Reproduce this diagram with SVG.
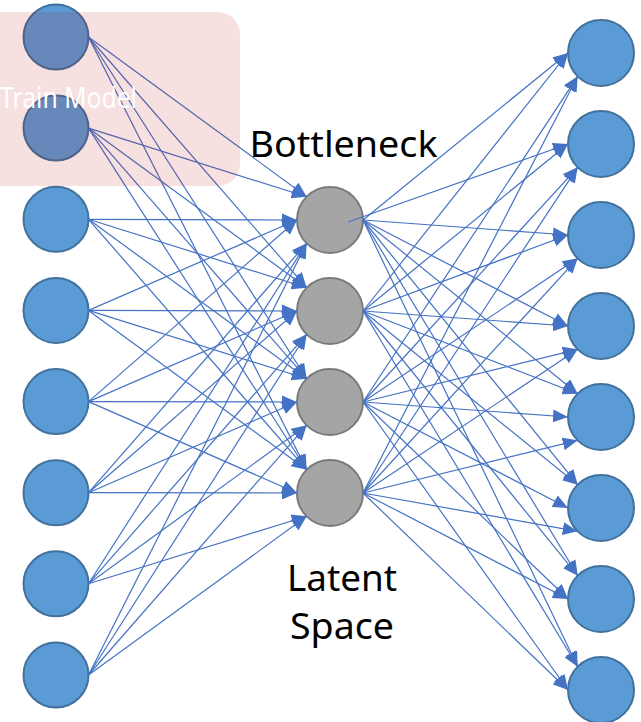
<svg xmlns="http://www.w3.org/2000/svg" width="641" height="722" viewBox="0 0 641 722">
  <style>
    .in { fill: #5B9BD5; stroke: #41719C; stroke-width: 2; }
    .mid { fill: #A5A5A5; stroke: #7A7A7A; stroke-width: 2; }
    .out { fill: #5B9BD5; stroke: #41719C; stroke-width: 2; }
    .edge { stroke: #4472C4; stroke-width: 1.2; fill: none; marker-end: url(#arrow); }
    .label { font-family: "Noto Sans", "Open Sans", "Liberation Sans", sans-serif; font-size: 37px; fill: #000000; text-anchor: middle; }
    .overlay-text { font-family: "Noto Sans", "Open Sans", "Liberation Sans", sans-serif; font-size: 29px; fill: #FFFFFF; }
  </style>
  <defs>
    <marker id="arrow" markerUnits="userSpaceOnUse" markerWidth="16" markerHeight="13" refX="15" refY="6.5" orient="auto">
      <path d="M0,0 L15,6.5 L0,13 z" fill="#4472C4"/>
    </marker>
  </defs>

  <rect width="641" height="722" fill="#FFFFFF"/>

  <!-- input layer -->
  <g id="input-1"><circle class="in" cx="56" cy="37" r="32.5"/></g>
  <g id="input-2"><circle class="in" cx="56" cy="128.1" r="32.5"/></g>
  <g id="input-3"><circle class="in" cx="56" cy="219.3" r="32.5"/></g>
  <g id="input-4"><circle class="in" cx="56" cy="310.4" r="32.5"/></g>
  <g id="input-5"><circle class="in" cx="56" cy="401.6" r="32.5"/></g>
  <g id="input-6"><circle class="in" cx="56" cy="492.7" r="32.5"/></g>
  <g id="input-7"><circle class="in" cx="56" cy="583.8" r="32.5"/></g>
  <g id="input-8"><circle class="in" cx="56" cy="675" r="32.5"/></g>

  <!-- bottleneck layer -->
  <g id="latent-1"><circle class="mid" cx="330" cy="220" r="33"/></g>
  <g id="latent-2"><circle class="mid" cx="330" cy="311" r="33"/></g>
  <g id="latent-3"><circle class="mid" cx="330" cy="402" r="33"/></g>
  <g id="latent-4"><circle class="mid" cx="330" cy="493" r="33"/></g>

  <!-- output layer -->
  <g id="output-1"><circle class="out" cx="601" cy="53" r="33"/></g>
  <g id="output-2"><circle class="out" cx="601" cy="144" r="33"/></g>
  <g id="output-3"><circle class="out" cx="601" cy="235" r="33"/></g>
  <g id="output-4"><circle class="out" cx="601" cy="326" r="33"/></g>
  <g id="output-5"><circle class="out" cx="601" cy="417" r="33"/></g>
  <g id="output-6"><circle class="out" cx="601" cy="508" r="33"/></g>
  <g id="output-7"><circle class="out" cx="601" cy="599" r="33"/></g>
  <g id="output-8"><circle class="out" cx="601" cy="690" r="33"/></g>

  <g id="connectors">
    <!-- encoder: inputs to latent-1 -->
    <line class="edge" x1="88.5" y1="37" x2="306.7" y2="196.7"/>
    <line class="edge" x1="88.5" y1="128.1" x2="306.7" y2="196.7"/>
    <line class="edge" x1="88.5" y1="219.3" x2="297" y2="220"/>
    <line class="edge" x1="88.5" y1="310.4" x2="297" y2="220"/>
    <line class="edge" x1="88.5" y1="401.6" x2="297" y2="220"/>
    <line class="edge" x1="88.5" y1="492.7" x2="306.7" y2="243.3"/>
    <line class="edge" x1="88.5" y1="583.8" x2="306.7" y2="243.3"/>
    <line class="edge" x1="88.5" y1="675" x2="306.7" y2="243.3"/>
    <!-- inputs to latent-2 -->
    <line class="edge" x1="88.5" y1="37" x2="306.7" y2="287.7"/>
    <line class="edge" x1="88.5" y1="128.1" x2="306.7" y2="287.7"/>
    <line class="edge" x1="88.5" y1="219.3" x2="306.7" y2="287.7"/>
    <line class="edge" x1="88.5" y1="310.4" x2="297" y2="311"/>
    <line class="edge" x1="88.5" y1="401.6" x2="297" y2="311"/>
    <line class="edge" x1="88.5" y1="492.7" x2="297" y2="311"/>
    <line class="edge" x1="88.5" y1="583.8" x2="306.7" y2="334.3"/>
    <line class="edge" x1="88.5" y1="675" x2="306.7" y2="334.3"/>
    <!-- inputs to latent-3 -->
    <line class="edge" x1="88.5" y1="37" x2="306.7" y2="378.7"/>
    <line class="edge" x1="88.5" y1="128.1" x2="306.7" y2="378.7"/>
    <line class="edge" x1="88.5" y1="219.3" x2="306.7" y2="378.7"/>
    <line class="edge" x1="88.5" y1="310.4" x2="306.7" y2="378.7"/>
    <line class="edge" x1="88.5" y1="401.6" x2="297" y2="402"/>
    <line class="edge" x1="88.5" y1="492.7" x2="297" y2="402"/>
    <line class="edge" x1="88.5" y1="583.8" x2="306.7" y2="425.3"/>
    <line class="edge" x1="88.5" y1="675" x2="306.7" y2="425.3"/>
    <!-- inputs to latent-4 -->
    <line class="edge" x1="88.5" y1="37" x2="306.7" y2="469.7"/>
    <line class="edge" x1="88.5" y1="128.1" x2="306.7" y2="469.7"/>
    <line class="edge" x1="88.5" y1="219.3" x2="306.7" y2="469.7"/>
    <line class="edge" x1="88.5" y1="310.4" x2="306.7" y2="469.7"/>
    <line class="edge" x1="88.5" y1="401.6" x2="297" y2="493"/>
    <line class="edge" x1="88.5" y1="492.7" x2="297" y2="493"/>
    <line class="edge" x1="88.5" y1="583.8" x2="306.7" y2="516.3"/>
    <line class="edge" x1="88.5" y1="675" x2="306.7" y2="516.3"/>

    <!-- decoder: latent-1 to outputs -->
    <line class="edge" x1="363" y1="220" x2="568" y2="53"/>
    <line class="edge" x1="348" y1="222" x2="568" y2="144"/>
    <line class="edge" x1="363" y1="220" x2="568" y2="235"/>
    <line class="edge" x1="363" y1="220" x2="568" y2="326"/>
    <line class="edge" x1="363" y1="220" x2="577.7" y2="393.7"/>
    <line class="edge" x1="363" y1="220" x2="577.7" y2="484.7"/>
    <line class="edge" x1="363" y1="220" x2="577.7" y2="575.7"/>
    <line class="edge" x1="363" y1="220" x2="577.7" y2="666.7"/>
    <!-- latent-2 to outputs -->
    <line class="edge" x1="363" y1="311" x2="568" y2="53"/>
    <line class="edge" x1="363" y1="311" x2="568" y2="144"/>
    <line class="edge" x1="363" y1="311" x2="568" y2="235"/>
    <line class="edge" x1="363" y1="311" x2="568" y2="326"/>
    <line class="edge" x1="363" y1="311" x2="577.7" y2="393.7"/>
    <line class="edge" x1="363" y1="311" x2="577.7" y2="484.7"/>
    <line class="edge" x1="363" y1="311" x2="577.7" y2="575.7"/>
    <line class="edge" x1="363" y1="311" x2="577.7" y2="666.7"/>
    <!-- latent-3 to outputs -->
    <line class="edge" x1="363" y1="402" x2="577.7" y2="76.3"/>
    <line class="edge" x1="363" y1="402" x2="577.7" y2="167.3"/>
    <line class="edge" x1="363" y1="402" x2="577.7" y2="258.3"/>
    <line class="edge" x1="363" y1="402" x2="577.7" y2="349.3"/>
    <line class="edge" x1="363" y1="402" x2="568" y2="417"/>
    <line class="edge" x1="363" y1="402" x2="568" y2="508"/>
    <line class="edge" x1="363" y1="402" x2="568" y2="599"/>
    <line class="edge" x1="363" y1="402" x2="568" y2="690"/>
    <!-- latent-4 to outputs -->
    <line class="edge" x1="363" y1="493" x2="577.7" y2="76.3"/>
    <line class="edge" x1="363" y1="493" x2="577.7" y2="167.3"/>
    <line class="edge" x1="363" y1="493" x2="577.7" y2="258.3"/>
    <line class="edge" x1="363" y1="493" x2="577.7" y2="349.3"/>
    <line class="edge" x1="363" y1="493" x2="577.7" y2="440.3"/>
    <line class="edge" x1="363" y1="493" x2="577.7" y2="531.3"/>
    <line class="edge" x1="363" y1="493" x2="568" y2="599"/>
    <line class="edge" x1="363" y1="493" x2="568" y2="690"/>
  </g>

  <!-- labels -->
  <text class="label" x="343.5" y="157" textLength="188" lengthAdjust="spacingAndGlyphs">Bottleneck</text>
  <text class="label" x="342" y="591" textLength="110" lengthAdjust="spacingAndGlyphs">Latent</text>
  <text class="label" x="342" y="639" textLength="104" lengthAdjust="spacingAndGlyphs">Space</text>

  <!-- translucent training panel over the top inputs -->
  <g id="train-model">
    <rect x="-30" y="12" width="270" height="174" rx="22" ry="22" fill="#C00000" fill-opacity="0.12"/>
    <text class="overlay-text" x="0" y="108" textLength="137" lengthAdjust="spacingAndGlyphs">Train Model</text>
  </g>
</svg>
